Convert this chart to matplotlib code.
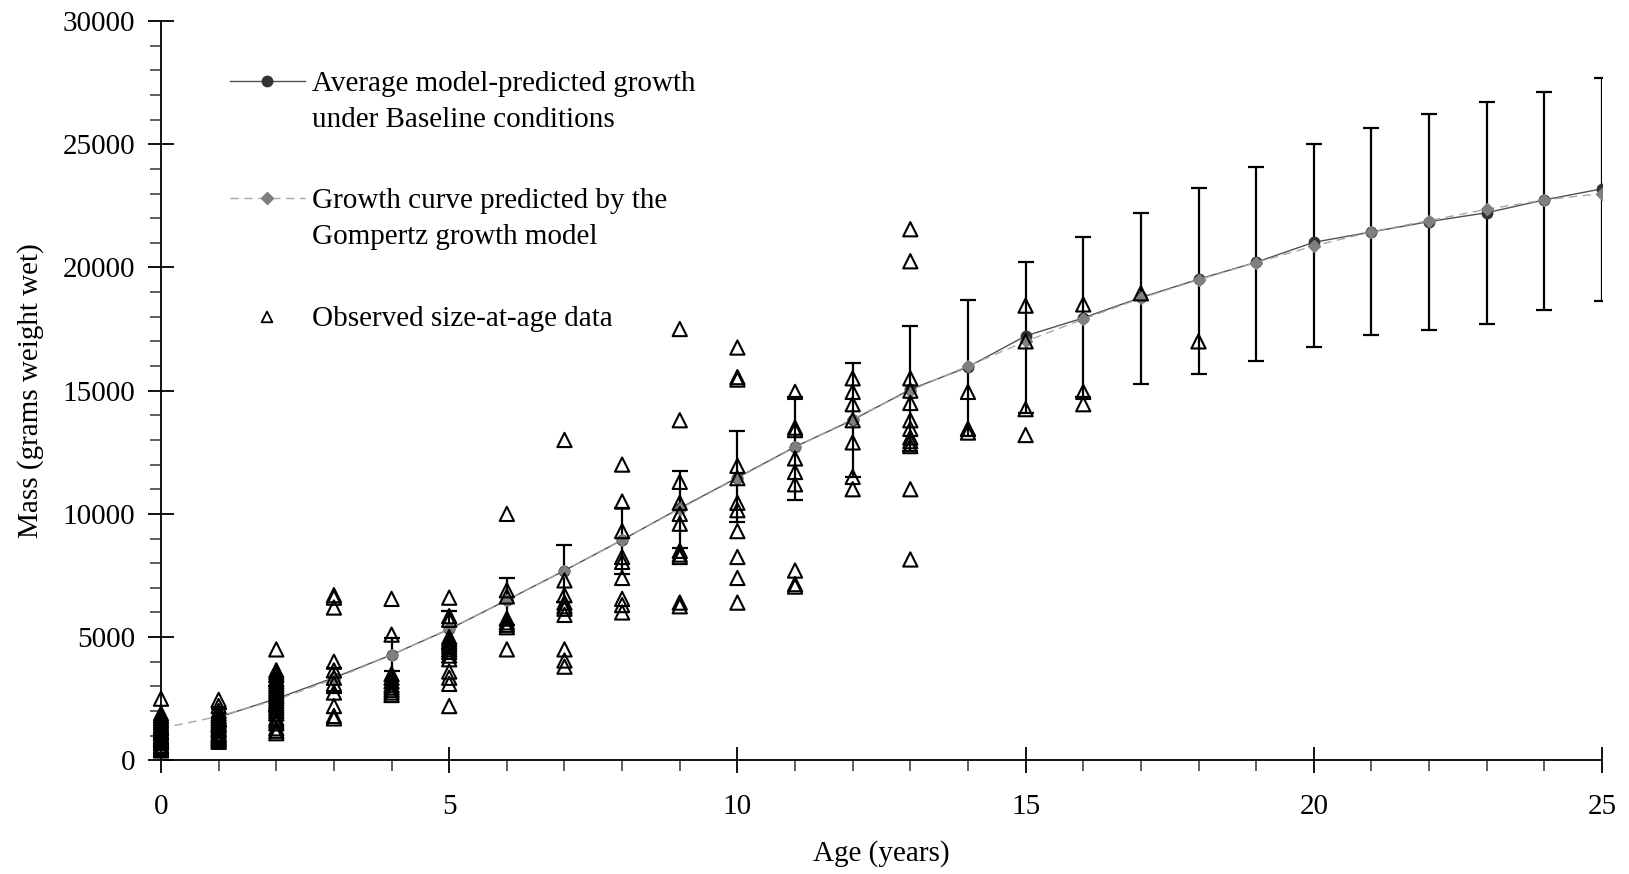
import matplotlib
matplotlib.use("Agg")
import matplotlib.pyplot as plt
from matplotlib.ticker import MultipleLocator

plt.rcParams["font.family"] = ["Liberation Serif", "DejaVu Serif"]

# Average model-predicted growth under baseline conditions (ages 1-25)
model_age = list(range(1, 26))
model_mass = [1750, 2500, 3350, 4280, 5320, 6500, 7700, 8940, 10230, 11470,
              12720, 13810, 15050, 15960, 17220, 17950, 18780, 19520, 20210,
              21020, 21440, 21860, 22220, 22740, 23190]
model_upper = [2100, 3000, 3750, 4960, 6060, 7410, 8740, 10230, 11740, 13380,
               14760, 16140, 17630, 18670, 20240, 21250, 22200, 23240, 24080,
               25020, 25660, 26230, 26700, 27100, 27700]
model_lower = [1400, 2000, 2740, 3630, 4500, 5490, 6440, 7560, 8600, 9690,
               10560, 11510, 12560, 13160, 14080, 14760, 15270, 15680, 16220,
               16790, 17250, 17480, 17710, 18260, 18650]

# Gompertz growth curve (ages 0-25)
gompertz_age = list(range(0, 26))
gompertz_mass = [1300, 1780, 2450, 3300, 4280, 5330, 6500, 7700, 8950, 10200,
                 11450, 12700, 13850, 15000, 16000, 17000, 17900, 18750, 19500,
                 20200, 20870, 21450, 21900, 22360, 22740, 23000]

# Observed size-at-age data, one list per age class (0-18 years)
observed_mass = [
    [2500, 1900, 1800, 1700, 1600, 1500, 1400, 1350, 1300, 1200, 1150, 1100,
     1000, 950, 900, 850, 800, 750, 700, 600, 550, 500, 450, 400],
    [2450, 2200, 2000, 1900, 1800, 1700, 1600, 1500, 1450, 1400, 1300, 1250,
     1200, 1100, 1050, 1000, 950, 900, 850, 800, 750],
    [4500, 3650, 3550, 3450, 3300, 3200, 3100, 3000, 2900, 2800, 2700, 2600,
     2500, 2400, 2300, 2200, 2100, 2000, 1900, 1700, 1600, 1500, 1300, 1200,
     1100],
    [6700, 6600, 6200, 4000, 3650, 3350, 3100, 2750, 2200, 1800, 1700],
    [6550, 5100, 3500, 3350, 3200, 3050, 2950, 2850, 2750, 2650],
    [6600, 5850, 5700, 5000, 4900, 4800, 4700, 4600, 4500, 4400, 4250, 4100,
     3600, 3350, 3100, 2200],
    [10000, 6900, 6650, 5750, 5600, 5500, 5400, 4500],
    [13000, 7300, 6700, 6400, 6250, 6150, 5900, 4500, 4050, 3800],
    [12000, 10500, 9300, 8250, 8050, 7400, 6550, 6300, 6000],
    [17500, 13800, 11300, 10450, 10000, 9600, 8500, 8350, 8250, 6400, 6250],
    [16750, 15550, 15450, 11950, 11450, 10450, 10150, 9300, 8250, 7400, 6400],
    [14950, 13500, 13400, 12250, 11700, 11200, 7700, 7150, 7050],
    [15500, 14950, 14450, 13800, 12900, 11500, 11000],
    [21550, 20250, 15500, 15000, 14500, 13800, 13450, 13100, 12950, 12750,
     11000, 8150],
    [14950, 13450, 13300],
    [18450, 17000, 14250, 13200],
    [18500, 14950, 14450],
    [18950],
    [17000],
]

legend_labels = [["Average model-predicted growth", "under Baseline conditions"],
                 ["Growth curve predicted by the", "Gompertz growth model"],
                 ["Observed size-at-age data"]]

W, H = 1629, 874
fig = plt.figure(figsize=(W / 100, H / 100), dpi=100)
ax = fig.add_axes([161 / W, 1 - 760.3 / H, (1602 - 161) / W, (760.3 - 21) / H])

FS = 21
dot_color = "#333333"
dia_color = "#7f7f7f"

# error bars
yerr = [[m - lo for m, lo in zip(model_mass, model_lower)],
        [up - m for m, up in zip(model_mass, model_upper)]]
ax.errorbar(model_age, model_mass, yerr=yerr, fmt="none", ecolor="black",
            elinewidth=1.6, capsize=6, capthick=1.6, zorder=2)

# model mean curve
ax.plot(model_age, model_mass, color="#505050", lw=1.0, marker="o",
        markersize=7.5, markerfacecolor=dot_color, markeredgecolor=dot_color,
        zorder=3)
# Gompertz curve
ax.plot(gompertz_age, gompertz_mass, color="#a8a8a8", lw=1.0,
        dashes=(6, 4), marker="D", markersize=6.5,
        markerfacecolor=dia_color, markeredgecolor=dia_color, zorder=4)

# observations
obs_x, obs_y = [], []
for age, masses in enumerate(observed_mass):
    obs_x += [age] * len(masses)
    obs_y += masses
ax.scatter(obs_x, obs_y, marker="^", s=105, facecolors="none",
           edgecolors="black", linewidths=1.5, zorder=5, clip_on=False)

ax.set_xlim(0, 25)
ax.set_ylim(0, 30000)
ax.xaxis.set_major_locator(MultipleLocator(5))
ax.xaxis.set_minor_locator(MultipleLocator(1))
ax.yaxis.set_major_locator(MultipleLocator(5000))
ax.yaxis.set_minor_locator(MultipleLocator(1000))
for s in ("top", "right"):
    ax.spines[s].set_visible(False)
for s in ("left", "bottom"):
    ax.spines[s].set_linewidth(1.3)
ax.tick_params(which="major", direction="inout", length=19, width=1.3,
               labelsize=FS)
ax.tick_params(which="minor", direction="out", length=8, width=1.2,
               color="#444444")
ax.tick_params(axis="x", which="major", pad=15)
ax.tick_params(axis="y", which="major", pad=9)

ax.set_xlabel("Age (years)", fontsize=FS, labelpad=14)
ax.set_ylabel("Mass (grams weight wet)", fontsize=FS, labelpad=13)

# legend, laid out in pixel positions of the figure
tr = ax.transAxes
def ax_pt(px, py):
    return ((px - 161) / (1602 - 161), (760.3 - py) / (760.3 - 21))

x0, _ = ax_pt(230, 0)
x1, _ = ax_pt(305, 0)
xm, _ = ax_pt(267, 0)
xt, _ = ax_pt(312, 0)
entry_px = [81.0, 198.4, 316.9]
ys = [ax_pt(0, p)[1] for p in entry_px]

ax.plot([x0, x1], [ys[0]] * 2, transform=tr, color="#505050", lw=1.0,
        clip_on=False)
ax.plot([xm], [ys[0]], transform=tr, marker="o", markersize=7.5,
        color=dot_color, clip_on=False)
ax.plot([x0, x1], [ys[1]] * 2, transform=tr, color="#a8a8a8", lw=1.0,
        dashes=(6, 4), clip_on=False)
ax.plot([xm], [ys[1]], transform=tr, marker="D", markersize=6.5,
        color=dia_color, clip_on=False)
ax.scatter([xm], [ys[2]], transform=tr, marker="^", s=60, facecolors="none",
           edgecolors="black", linewidths=1.3, clip_on=False)

line_px = 36.4
for p, lines in zip(entry_px, legend_labels):
    for i, line in enumerate(lines):
        baseline = p + 9.5 + i * line_px
        ax.text(xt, ax_pt(0, baseline)[1], line, transform=tr, fontsize=FS,
                va="baseline", ha="left")

fig.savefig("out.png", dpi=100)
